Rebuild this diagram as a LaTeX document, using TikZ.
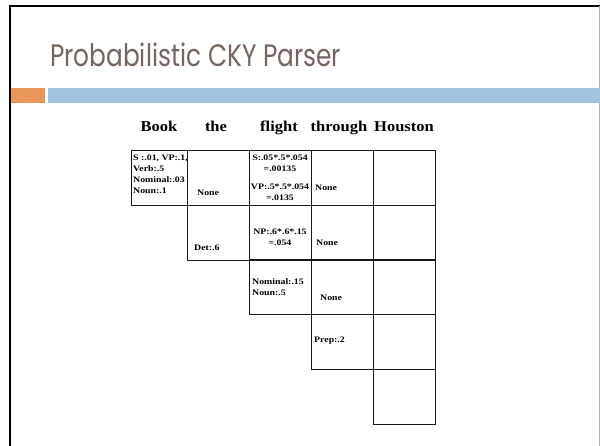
\documentclass[tikz,border=0pt]{standalone}
\usepackage{fontspec}
\setmainfont{Liberation Serif}
\newfontfamily\titlefont[FakeStretch=0.8]{Poppins}
\newfontfamily\wideserif[FakeStretch=1.17]{Liberation Serif}
\newfontfamily\headserif[FakeStretch=1.1]{Liberation Serif}
\definecolor{titlegrey}{RGB}{118,101,92}
\definecolor{barorange}{RGB}{232,150,90}
\definecolor{barblue}{RGB}{163,194,219}
\begin{document}
\begin{tikzpicture}[x=1pt,y=-1pt,
  cell/.style={draw=black!90,line width=1.1pt,minimum width=62pt,minimum height=55pt,anchor=north west,inner sep=0pt},
  firstcell/.style={cell,minimum width=56pt},
  word/.style={font=\headserif\bfseries\fontsize{15}{17}\selectfont,anchor=base,inner sep=0pt},
  entry/.style={font=\wideserif\bfseries\fontsize{8.4}{11}\selectfont,inner sep=0pt,align=left},
]
\useasboundingbox (0,0) rectangle (600,446);
\fill[white] (0,0) rectangle (600,446);
% slide frame
\draw[line width=2pt,black] (10,446) -- (10,6) -- (600,6);
\draw[line width=1pt,black!30] (599,6) -- (599,446);
% title and rule bars
\node[anchor=base west,inner sep=0pt,text=titlegrey,font=\titlefont\fontsize{31}{36}\selectfont] (title) at (50,67) {Probabilistic CKY Parser};
\fill[barorange] (11,88) rectangle (45,103);
\fill[barblue] (48,88) rectangle (600,103);
% words of the sentence
\node[word] (w1) at (159,132) {Book};
\node[word] (w2) at (216,132) {the};
\node[word] (w3) at (279,132) {flight};
\node[word] (w4) at (339,132) {through};
\node[word] (w5) at (404,132) {Houston};
% chart cells: row i, column j
\node[firstcell] (c11) at (131,150) {};
\foreach \j/\x in {2/187,3/249,4/311,5/373} \node[cell] (c1\j) at (\x,150) {};
\foreach \j/\x in {2/187,3/249,4/311,5/373} \node[cell] (c2\j) at (\x,205) {};
\foreach \j/\x in {3/249,4/311,5/373} \node[cell] (c3\j) at (\x,259) {};
\foreach \j/\x in {4/311,5/373} \node[cell] (c4\j) at (\x,314) {};
\node[cell] (c55) at (373,369) {};
% cell entries (multi-line entries are placed by the baseline of their last line)
\node[entry,anchor=base west] (e11) at (133,194) {S :.01, VP:.1,\\Verb:.5\\Nominal:.03\\Noun:.1};
\node[entry,anchor=base west] (e12) at (197,196) {None};
\node[entry,anchor=base,align=center] (e13a) at (280,172) {S:.05*.5*.054\\=.00135};
\node[entry,anchor=base,align=center] (e13b) at (280,201) {VP:.5*.5*.054\\=.0135};
\node[entry,anchor=base west] (e14) at (315,191) {None};
\node[entry,anchor=base west] (e22) at (194,251) {Det:.6};
\node[entry,anchor=base,align=center] (e23) at (280,246) {NP:.6*.6*.15\\=.054};
\node[entry,anchor=base west] (e24) at (316,246) {None};
\node[entry,anchor=base west] (e33) at (252,296) {Nominal:.15\\Noun:.5};
\node[entry,anchor=base west] (e34) at (320,301) {None};
\node[entry,anchor=base west] (e44) at (314,343) {Prep:.2};
\end{tikzpicture}
\end{document}
